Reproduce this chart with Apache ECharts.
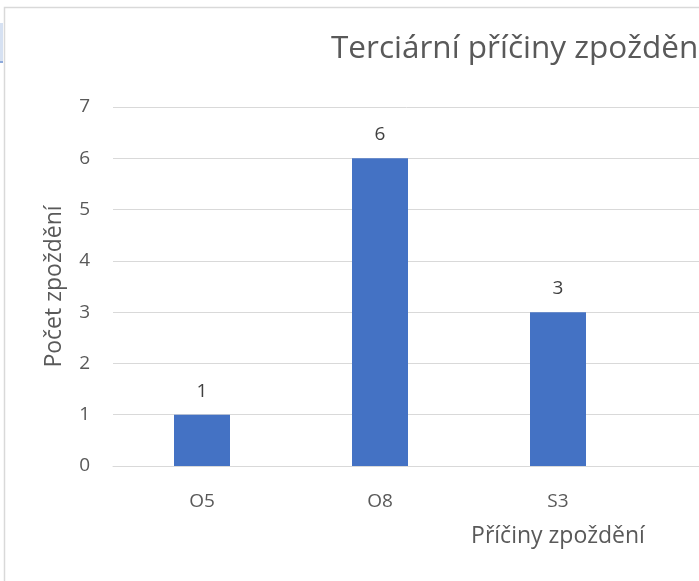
<!DOCTYPE html>
<html>
<head>
<meta charset="utf-8">
<script src="https://cdn.jsdelivr.net/npm/echarts@6/dist/echarts.min.js"></script>
<style>
  html, body { margin: 0; padding: 0; background: #fff; overflow: hidden; }
  #chart { width: 699px; height: 581px; }
</style>
</head>
<body>
<div id="chart"></div>
<script>
  // kategorie a hodnoty
  const categories = ['O5', 'O8', 'S3'];
  const delays = [1, 6, 3];
  const yTicks = [0, 1, 2, 3, 4, 5, 6, 7];
  // graf pokračuje za pravým okrajem výřezu: dvě další pozice nejsou vidět
  const hiddenSlots = ['', ''];

  const textGray = '#595959';
  const fontName = '"Open Sans", sans-serif';

  var chart = echarts.init(document.getElementById('chart'));
  var option = {
    animation: false,
    title: {
      text: 'Terciární příčiny zpoždění',
      left: 326,
      top: 28,
      textStyle: {
        color: textGray,
        fontFamily: fontName,
        fontSize: 31.5,
        fontWeight: 'normal'
      }
    },
    graphic: [
      // rámeček grafu (pravá a dolní strana je mimo výřez)
      {
        type: 'rect',
        shape: { x: 4.5, y: 7.5, width: 1100, height: 1000 },
        style: { fill: 'none', stroke: '#d9d9d9', lineWidth: 1.5 },
        silent: true
      },
      {
        type: 'rect',
        shape: { x: 0, y: 23, width: 3, height: 39 },
        style: { fill: '#d6e1f2' },
        silent: true
      },
      {
        type: 'rect',
        shape: { x: 0, y: 61, width: 3, height: 2 },
        style: { fill: '#8eaadb' },
        silent: true
      }
    ],
    grid: {
      left: 113,
      top: 107,
      width: 890,
      height: 359,
      outerBoundsMode: 'none',
      containLabel: false
    },
    xAxis: {
      type: 'category',
      data: categories.concat(hiddenSlots),
      name: 'Příčiny zpoždění',
      nameLocation: 'middle',
      nameGap: 59,
      nameTextStyle: { color: textGray, fontFamily: fontName, fontSize: 23 },
      axisLine: { lineStyle: { color: '#d9d9d9', width: 1 } },
      axisTick: { show: false },
      axisLabel: { color: textGray, fontFamily: fontName, fontSize: 19, margin: 26 },
      splitLine: { show: false }
    },
    yAxis: {
      type: 'value',
      min: yTicks[0],
      max: yTicks[yTicks.length - 1],
      interval: 1,
      name: 'Počet zpoždění',
      nameLocation: 'middle',
      nameGap: 47,
      nameTextStyle: { color: textGray, fontFamily: fontName, fontSize: 23 },
      axisLine: { show: false },
      axisTick: { show: false },
      axisLabel: { color: textGray, fontFamily: fontName, fontSize: 19, margin: 23 },
      splitLine: { lineStyle: { color: '#d9d9d9', width: 1 } }
    },
    series: [{
      name: 'Počet zpoždění',
      type: 'bar',
      data: delays,
      barWidth: 56,
      itemStyle: { color: '#4472c4' },
      label: {
        show: true,
        position: 'top',
        distance: 14,
        color: '#404040',
        fontFamily: fontName,
        fontSize: 19
      }
    }]
  };
  chart.setOption(option);
</script>
</body>
</html>
